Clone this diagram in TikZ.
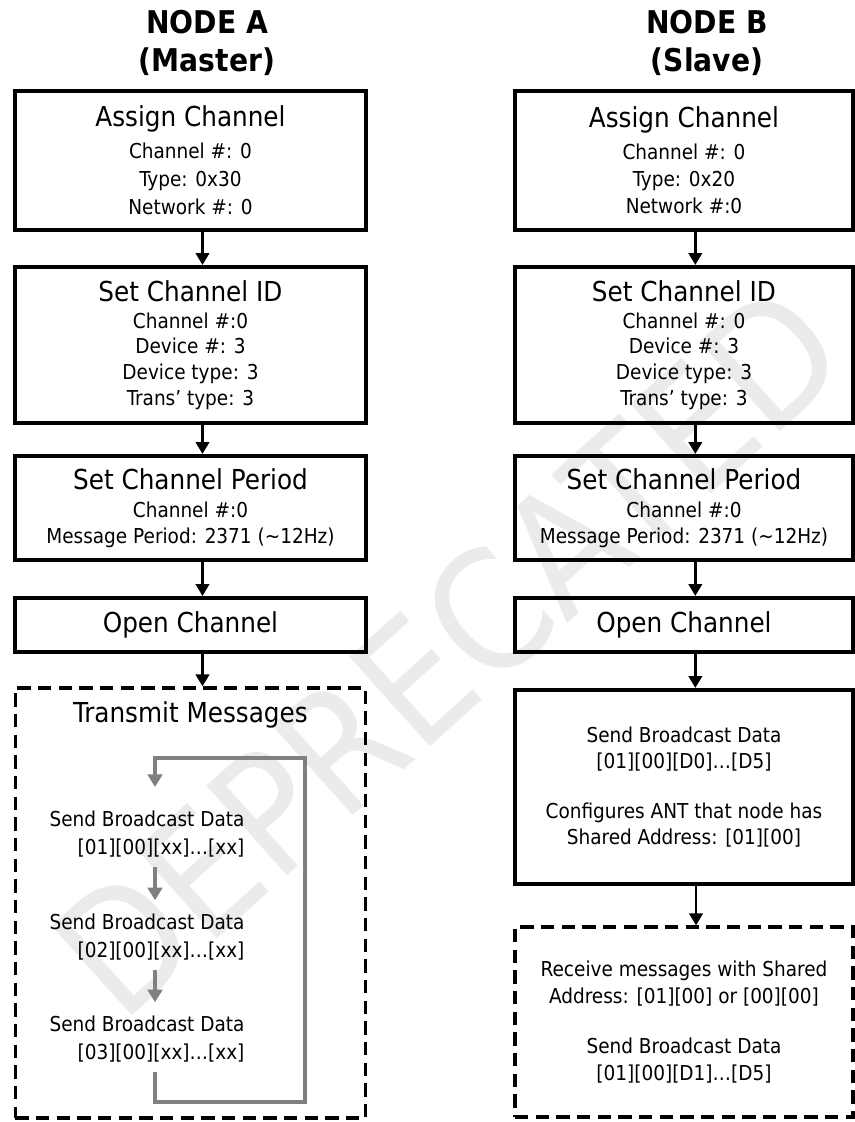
\documentclass[tikz,border=0pt]{standalone}
\usepackage{fontspec}
\setmainfont{DejaVu Sans Condensed}
\usetikzlibrary{arrows.meta}

\newcommand{\boxtitle}[1]{{\fontsize{20.6pt}{25pt}\selectfont #1}}

\tikzset{
  stepbox/.style={draw, line width=3pt, align=center, inner sep=0pt},
  leftbox/.style={stepbox, minimum width=263pt},
  rightbox/.style={stepbox, minimum width=253.5pt},
  dashbox/.style={draw, line width=2.4pt, dash pattern=on 10pt off 5.5pt, inner sep=0pt},
  detail/.style={font=\fontsize{15.4pt}{#1}\selectfont},
  title/.style={align=center, inner sep=0pt, font=\bfseries\fontsize{23.5pt}{28pt}\selectfont},
  flow/.style={-{Triangle[length=9pt,width=10pt]}, line width=2.2pt},
  loopflow/.style={-{Triangle[length=9.5pt,width=11pt]}, line width=3.4pt, draw=black!50},
  watermark/.style={rotate=42, text=black!8, inner sep=0pt, font=\fontsize{124pt}{124pt}\selectfont},
}

\begin{document}
\begin{tikzpicture}[x=0.75pt, y=-0.75pt]
	\useasboundingbox (0,0) rectangle (855,1122);
	\node (wm)[watermark] at (448,650) {DEPRECATED};

	% titles
	\node (ta)[title] at (207,43) {NODE A\\(Master)};
	\node (tb)[title] at (707,43) {NODE B\\(Slave)};

	% node A (master)
	\node (a1)[leftbox, minimum height=104pt, detail=21pt] at (190.5,160.5) {\boxtitle{Assign Channel}\\[3pt] Channel \#: 0\\ Type: 0x30\\ Network \#: 0};
	\node (a2)[leftbox, minimum height=117pt, detail=19.2pt] at (190.5,345) {\boxtitle{Set Channel ID}\\[1pt] Channel \#:0\\ Device \#: 3\\ Device type: 3\\ Trans’ type: 3};
	\node (a3)[leftbox, minimum height=78pt, detail=19.2pt] at (190.5,508) {\boxtitle{Set Channel Period}\\[2pt] Channel \#:0\\ Message Period: 2371 (\textasciitilde12Hz)};
	\node (a4)[leftbox, minimum height=40.5pt] at (190.5,625) {\boxtitle{Open Channel}};
	\node (a5)[dashbox, minimum width=263pt, minimum height=322.5pt] at (190.5,903) {};
	\node (tm) at (190.5,715) {\boxtitle{Transmit Messages}};

	\node (s1)[align=right, inner sep=0pt, detail=21pt] at (147,834) {Send Broadcast Data\\ {[01][00][xx]…[xx]}};
	\node (s2)[align=right, inner sep=0pt, detail=21pt] at (147,937) {Send Broadcast Data\\ {[02][00][xx]…[xx]}};
	\node (s3)[align=right, inner sep=0pt, detail=21pt] at (147,1039) {Send Broadcast Data\\ {[03][00][xx]…[xx]}};
	\coordinate (lstart) at (155,1072);
	\coordinate (lright) at (305,1102);
	\coordinate (ltop) at (155,758);
	\coordinate (lend) at (155,787);

	\draw [flow]([xshift=9pt]a1.south)--([xshift=9pt]a2.north);
	\draw [flow]([xshift=9pt]a2.south)--([xshift=9pt]a3.north);
	\draw [flow]([xshift=9pt]a3.south)--([xshift=9pt]a4.north);
	\draw [flow]([xshift=9pt]a4.south)--([xshift=9pt]a5.north);
	\draw [loopflow](lstart)|-(lright)|-(ltop)--(lend);
	\draw [loopflow, shorten <=7pt, shorten >=10pt](s1.south -| lend)--(s2.north -| lend);
	\draw [loopflow, shorten <=7pt, shorten >=10pt](s2.south -| lend)--(s3.north -| lend);

	% node B (slave)
	\node (b1)[rightbox, minimum height=104pt, detail=20.6pt] at (684,160.5) {\boxtitle{Assign Channel}\\[3pt] Channel \#: 0\\ Type: 0x20\\ Network \#:0};
	\node (b2)[rightbox, minimum height=117pt, detail=19.2pt] at (684,345) {\boxtitle{Set Channel ID}\\[1pt] Channel \#: 0\\ Device \#: 3\\ Device type: 3\\ Trans’ type: 3};
	\node (b3)[rightbox, minimum height=78pt, detail=19.2pt] at (684,508) {\boxtitle{Set Channel Period}\\[2pt] Channel \#:0\\ Message Period: 2371 (\textasciitilde12Hz)};
	\node (b4)[rightbox, minimum height=40.5pt] at (684,625) {\boxtitle{Open Channel}};
	\node (b5)[rightbox, minimum height=145.5pt, detail=19.5pt] at (684,787) {Send Broadcast Data\\ {[01][00][D0]…[D5]}\\[18pt] Configures ANT that node has\\ Shared Address: [01][00]};
	\node (b6)[dashbox, minimum width=253.5pt, minimum height=142.5pt, align=center, detail=20pt] at (684,1022) {Receive messages with Shared\\ Address: [01][00] or [00][00]\\[17.5pt] Send Broadcast Data\\ {[01][00][D1]…[D5]}};

	\draw [flow]([xshift=8.5pt]b1.south)--([xshift=8.5pt]b2.north);
	\draw [flow]([xshift=8.5pt]b2.south)--([xshift=8.5pt]b3.north);
	\draw [flow]([xshift=8.5pt]b3.south)--([xshift=8.5pt]b4.north);
	\draw [flow]([xshift=8.5pt]b4.south)--([xshift=8.5pt]b5.north);
	\draw [flow]([xshift=9pt]b5.south)--([xshift=9pt]b6.north);
\end{tikzpicture}
\end{document}
